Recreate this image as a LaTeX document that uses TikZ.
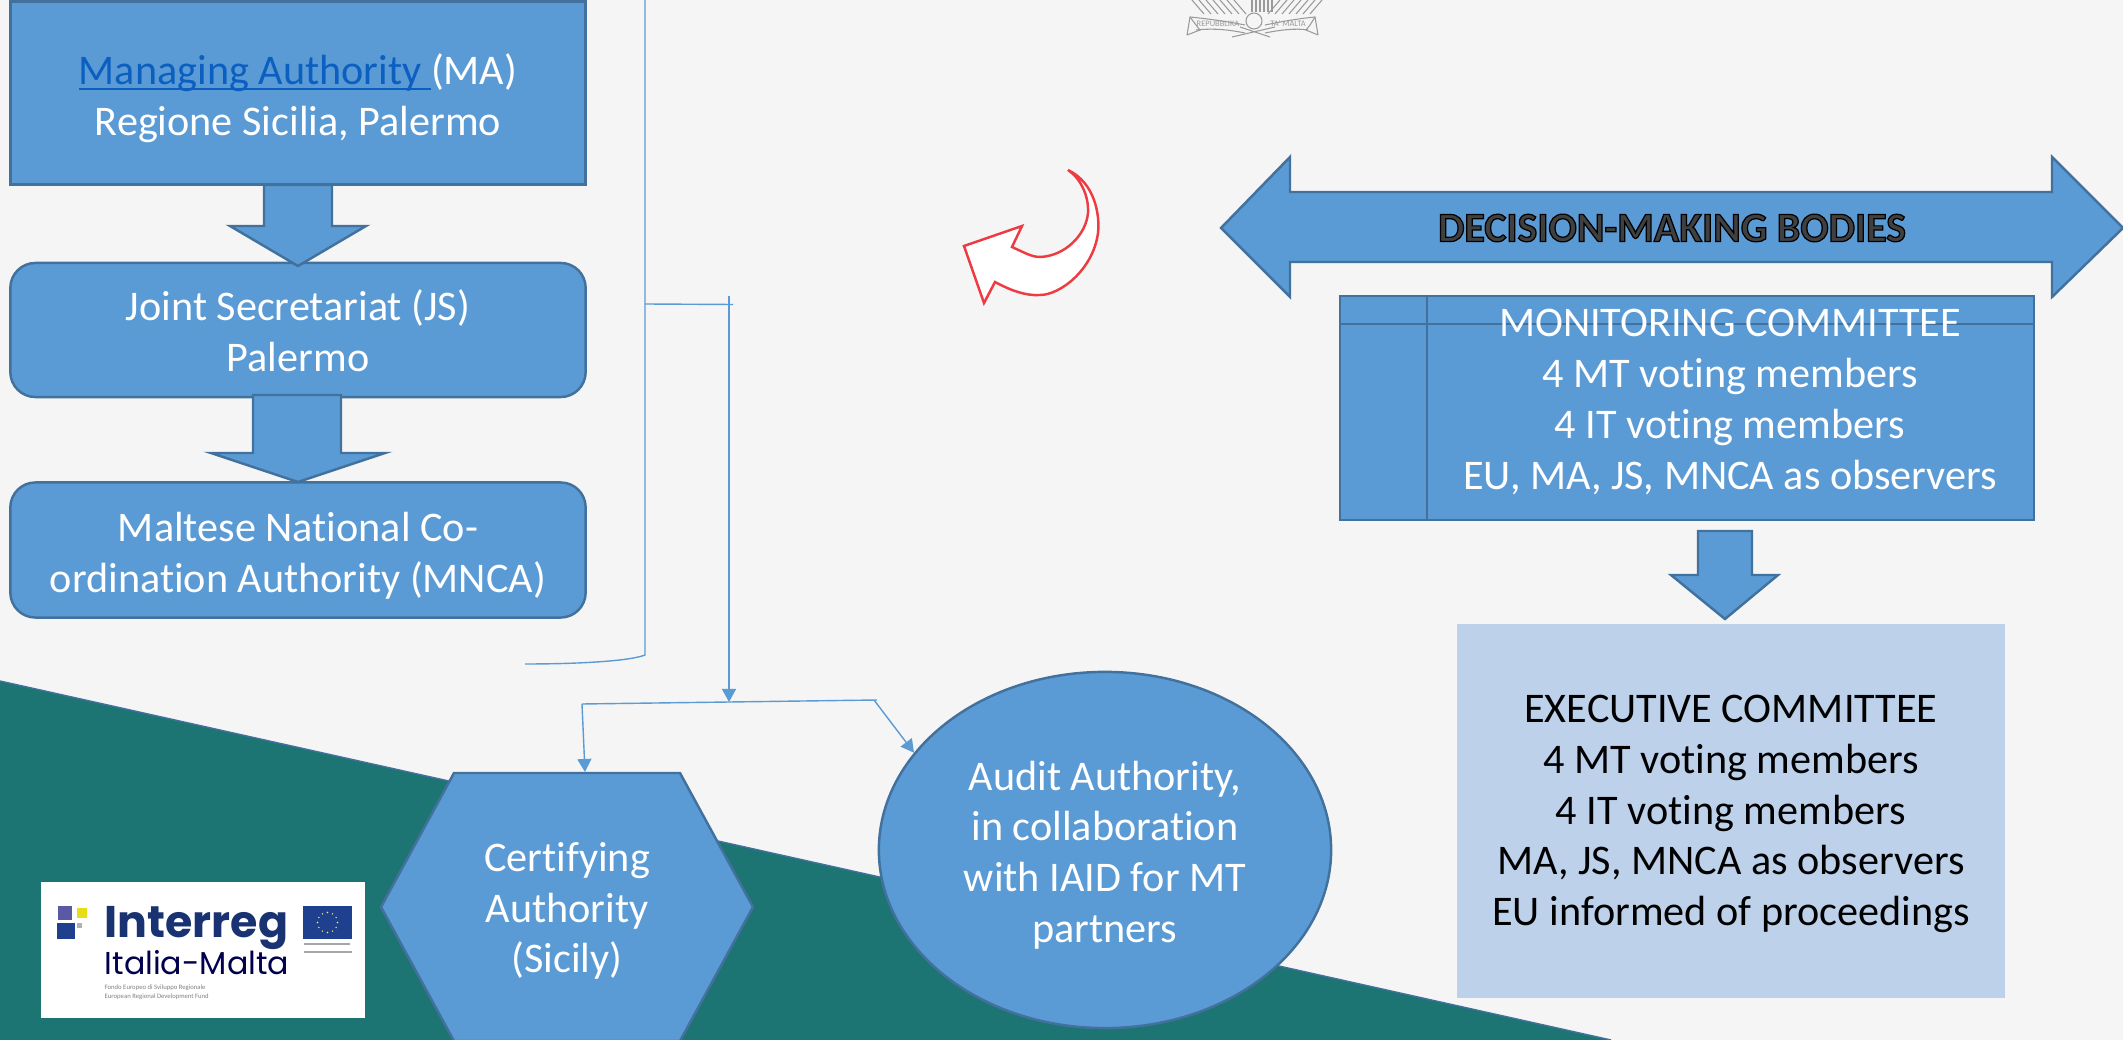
\documentclass[tikz,border=0pt]{standalone}
\usepackage{fontspec}
\setmainfont[Ligatures=NoCommon]{Carlito}
\newfontfamily\logofont{Poppins}
\usetikzlibrary{arrows.meta, shapes.geometric, positioning, calc}

\newsavebox\linkbox
\newcommand{\linktext}[1]{\sbox\linkbox{#1}\rlap{\rule[-1.7pt]{\wd\linkbox}{0.55pt}}\usebox\linkbox}

\definecolor{boxblue}{HTML}{5B9BD5}
\definecolor{boxedge}{HTML}{41719C}
\definecolor{paleblue}{HTML}{BDD2EA}
\definecolor{teal}{HTML}{1C7573}
\definecolor{linkblue}{HTML}{0B5FC0}
\definecolor{navy}{HTML}{1F3F8F}
\definecolor{crest}{HTML}{9A9A9A}
\definecolor{curl}{HTML}{EE3B42}

\tikzset{
  bluebox/.style={draw=boxedge,fill=boxblue,line width=0.7pt},
  boxtext/.style={text=white,align=center,font=\fontsize{12}{14.45}\selectfont},
  wire/.style={draw=boxblue,line width=0.4pt},
  wirearrow/.style={wire,-{Triangle[length=0.13cm,width=0.14cm]}},
  crestline/.style={draw=crest,line width=0.3pt}
}

\begin{document}
\begin{tikzpicture}[x=0.01cm,y=-0.01cm]
      \useasboundingbox (0,0) rectangle (2123,1040);
      \fill[fill=white!96!black] (0,0) rectangle (2123,1040);
      \fill[teal] (0,681) -- (1611,1040) -- (0,1040) -- cycle;
      \draw[boxedge,line width=0.4pt] (0,681) -- (1611,1040);

      % left column
      \node[bluebox,minimum width=5.75cm,minimum height=1.83cm] (manage) at (298,93) {};
      \node[boxtext] (managetext) at (298,98) {\textcolor{linkblue}{\linktext{Managing Authority\ }}(MA)\\Regione Sicilia, Palermo};
      \node[bluebox,rounded corners=0.25cm,minimum width=5.75cm,minimum height=1.34cm] (secretariat) at (298,330) {};
      \node[boxtext] (secretariattext) at (298,331) {Joint Secretariat (JS)\\Palermo};
      \node[bluebox,rounded corners=0.25cm,minimum width=5.75cm,minimum height=1.35cm] (mnca) at (298,550) {};
      \node[boxtext] (mncatext) at (298,556) {Maltese National Co-\\ordination Authority (MNCA)};
      \draw[bluebox] (264,185) -- (332,185) -- (332,226) -- (366,226) -- (298,266) -- (230,226) -- (264,226) -- cycle;
      \draw[bluebox] (253,395) -- (341,395) -- (341,453) -- (385,453) -- (298,482) -- (211,453) -- (253,453) -- cycle;

      % connectors
      \coordinate (bracetop) at (645,0);
      \coordinate (bracefoot) at (645,655);
      \coordinate (braceend) at (525,664);
      \coordinate (stubleft) at (645,304);
      \coordinate (stubright) at (733,304.5);
      \coordinate (droptop) at (729,296);
      \coordinate (busmid) at (729,702);
      \coordinate (busleft) at (582,704);
      \coordinate (busright) at (877,700);
      \coordinate (busturn) at (874,700);
      \coordinate (hextop) at (585,772);
      \draw[wire] (bracetop) -- (bracefoot) .. controls (630,661) and (580,664) .. (braceend);
      \draw[wire] (stubleft) -- (stubright);
      \draw[wirearrow] (droptop) -- (busmid);
      \draw[wire] (busleft) -- (busright);

      % hexagon and ellipse
      \draw[bluebox] (454,773) -- (680,773) -- (753,907) -- (680,1041) -- (454,1041) -- (381,907) -- cycle;
      \node[boxtext] (certify) at (567,911) {Certifying\\Authority\\(Sicily)};
      \node[bluebox,ellipse,minimum width=4.52cm,minimum height=3.56cm,inner sep=0pt] (audit) at (1105,850) {};
      \node[boxtext] (audittext) at (1105,855) {Audit Authority,\\in collaboration\\with IAID for MT\\partners};
      \draw[wirearrow] (busleft) -- (hextop);
      \draw[wirearrow] (busturn) -- (audit.153);

      % logo
      \node[fill=white,minimum width=3.24cm,minimum height=1.36cm,inner sep=0pt] (logo) at (203,950) {};
      \fill[gray!70!blue] (58,906) rectangle (72,920);
      \fill[yellow!90!black] (77,908) rectangle (87,918);
      \fill[navy] (57,923) rectangle (75,939);
      \fill[gray!60] (77,923) rectangle (82,928);
      \node[anchor=west,inner sep=0pt,text=navy!80!black,font=\logofont\bfseries\fontsize{12.6}{12}\selectfont] (logoname) at (104,928) {Interreg};
      \node[anchor=west,inner sep=0pt,text=black!70!blue,font=\logofont\fontsize{9}{9}\selectfont] (logoarea) at (104,963) {Italia-Malta};
      \node[anchor=west,inner sep=0pt,text=gray,align=left,font=\fontsize{1.9}{2.6}\selectfont] (logofund) at (104,992) {Fondo Europeo di Sviluppo Regionale\\European Regional Development Fund};
      \fill[navy] (303,906) rectangle (352,939);
      \foreach \a in {0,30,...,330}
        \fill[yellow!70!white] ($(327.5,922.5)+(\a:10)$) circle (0.8);
      \draw[gray!70,line width=0.5pt] (304,944) -- (350,944);
      \draw[gray!70,line width=0.5pt] (304,952) -- (352,952);

      % crest at the top
      \draw[crestline] (1187,35) -- (1190,17) .. controls (1210,19) and (1230,22) .. (1245,25);
      \draw[crestline] (1187,35) -- (1200,30) -- (1196,25) (1190,17) -- (1196,25);
      \draw[crestline] (1196,30) .. controls (1215,28) and (1230,30) .. (1245,33);
      \draw[crestline] (1318,35) -- (1315,17) .. controls (1295,19) and (1280,22) .. (1265,25);
      \draw[crestline] (1318,35) -- (1306,30) -- (1310,25) (1315,17) -- (1310,25);
      \draw[crestline] (1308,30) .. controls (1295,28) and (1280,30) .. (1265,33);
      \draw[crestline] (1254,21) circle (8);
      \draw[crestline] (1232,37) -- (1275,27) (1270,37) -- (1240,27);
      \foreach \x in {1252,1256,...,1272}
        \draw[crestline] (\x,0) -- (\x,12);
      \foreach \x in {1192,1199,...,1234}
        \draw[crestline] (\x,0) -- (\x+12,14);
      \foreach \x in {1280,1287,...,1322}
        \draw[crestline] (\x,0) -- (\x-12,14);
      \node[text=crest,inner sep=0pt,font=\fontsize{2.4}{2}\selectfont] (crestleft) at (1218,24) {REPUBBLIKA};
      \node[text=crest,inner sep=0pt,font=\fontsize{2.4}{2}\selectfont] (crestright) at (1288,24) {TA' MALTA};

      % curved arrow
      \draw[draw=curl,fill=white,line width=0.7pt] (1068,170) .. controls (1095,183) and (1100,215) .. (1098,233) .. controls (1093,270) and (1060,295) .. (1040,295) .. controls (1025,296) and (1010,290) .. (995,282) -- (984,303) -- (964,246) -- (1022,226) -- (1012,247) .. controls (1025,253) and (1032,257) .. (1040,257) .. controls (1065,256) and (1086,235) .. (1088,213) .. controls (1089,195) and (1080,178) .. (1068,170) -- cycle;

      % decision bodies
      \draw[bluebox] (1221,228) -- (1290,157) -- (1290,192) -- (2052,192) -- (2052,157) -- (2123,228) -- (2052,297) -- (2052,262) -- (1290,262) -- (1290,297) -- cycle;
      \node[inner sep=0pt,font=\bfseries\fontsize{11.9}{14}\selectfont] (decision) at (1672,228) {\special{pdf:code q 0 0 0 RG 0.25 0.25 0.25 rg 2 Tr 0.35 w}DECISION-MAKING BODIES\special{pdf:code Q}};

      \node[bluebox,minimum width=6.94cm,minimum height=2.24cm] (monitor) at (1687,408) {};
      \draw[boxedge,line width=0.7pt] (1427,296) -- (1427,520);
      \draw[boxedge,line width=0.7pt] (1340,324) -- (2034,324);
      \node[boxtext] (montext) at (1730,402) {MONITORING COMMITTEE\\4 MT voting members\\4 IT voting members\\EU, MA, JS, MNCA as observers};
      \draw[bluebox] (1698,531) -- (1752,531) -- (1752,575) -- (1778,575) -- (1725,619) -- (1671,575) -- (1698,575) -- cycle;

      \node[fill=paleblue,minimum width=5.48cm,minimum height=3.74cm] (execbox) at (1731,811) {};
      \node[boxtext,text=black] (exectext) at (1731,814) {EXECUTIVE COMMITTEE\\4 MT voting members\\4 IT voting members\\MA, JS, MNCA as observers\\EU informed of proceedings};

    \end{tikzpicture}
\end{document}
